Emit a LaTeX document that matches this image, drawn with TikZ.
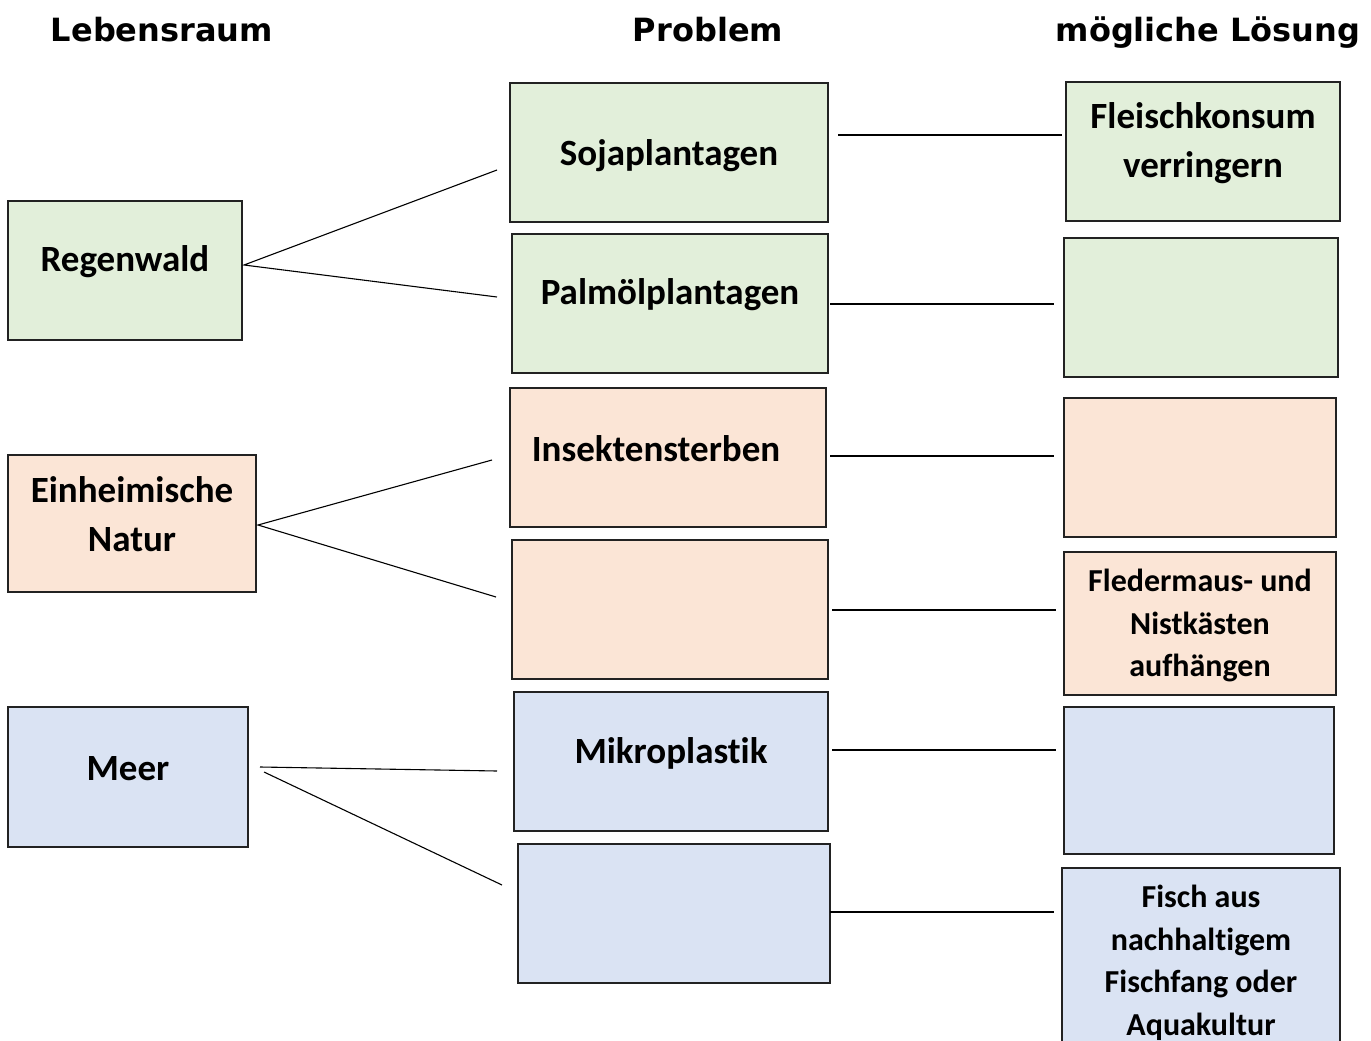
\documentclass[tikz,border=0pt]{standalone}
\usepackage{fontspec}
\setmainfont[Ligatures=NoCommon]{Carlito}
\newfontfamily\headfont{DejaVu Sans}
\definecolor{gfill}{HTML}{E2EFDA}
\definecolor{ofill}{HTML}{FBE5D6}
\definecolor{bfill}{HTML}{DAE3F3}
\definecolor{edge}{HTML}{222222}
\begin{document}
\begin{tikzpicture}[x=1pt,y=-1pt,
  box/.style={draw=edge,line width=1.2pt,inner sep=0pt},
  gbox/.style={box,fill=gfill},
  obox/.style={box,fill=ofill},
  bbox/.style={box,fill=bfill},
  txt/.style={font=\fontsize{37}{49}\selectfont\bfseries,align=center,inner sep=0pt,yshift=-3pt},
  stxt/.style={font=\fontsize{32}{42.5}\selectfont\bfseries,align=center,inner sep=0pt,yshift=-2pt},
  head/.style={font=\headfont\fontsize{32}{38}\selectfont\bfseries,inner sep=0pt,anchor=base},
  conn/.style={line width=1.1pt}]
\useasboundingbox (0,0) rectangle (1371,1041);
\clip (0,0) rectangle (1371,1041);
% headings
\node[head] (h1) at (162,42) {Lebensraum};
\node[head] (h2) at (708,42) {Problem};
\node[head] (h3) at (1208,42) {mögliche Lösung};
% left column
\draw[gbox] (8,201) rectangle (242,340);
\node[txt] (regen) at (125,259) {Regenwald};
\draw[obox] (8,455) rectangle (256,592);
\node[txt] (natur) at (132,511) {Einheimische\\Natur};
\draw[bbox] (8,707) rectangle (248,847);
\node[txt] (meer) at (128,766) {Meer};
% middle column
\draw[gbox] (510,83) rectangle (828,222);
\node[txt] (soja) at (669,153) {Sojaplantagen};
\draw[gbox] (512,234) rectangle (828,373);
\node[txt] (palm) at (670,292) {Palmölplantagen};
\draw[obox] (510,388) rectangle (826,527);
\node[txt] (insekt) at (656,446) {Insektensterben};
\draw[obox] (512,540) rectangle (828,679);
\draw[bbox] (514,692) rectangle (828,831);
\node[txt] (mikro) at (671,750) {Mikroplastik};
\draw[bbox] (518,844) rectangle (830,983);
% right column
\draw[gbox] (1066,82) rectangle (1340,221);
\node[txt] (fleisch) at (1203,140.5) {Fleischkonsum\\verringern};
\draw[gbox] (1064,238) rectangle (1338,377);
\draw[obox] (1064,398) rectangle (1336,537);
\draw[obox] (1064,552) rectangle (1336,695);
\node[stxt] (fleder) at (1200,623.5) {Fledermaus- und\\Nistkästen\\aufhängen};
\draw[bbox] (1064,707) rectangle (1334,854);
\draw[bbox] (1062,868) rectangle (1340,1060);
\node[stxt] (fisch) at (1201,961) {Fisch aus\\nachhaltigem\\Fischfang oder\\Aquakultur};
% connector end points
\coordinate (a0) at (244,265);
\coordinate (a1) at (497,170);
\coordinate (a2) at (497,297);
\coordinate (b0) at (258,525);
\coordinate (b1) at (492,460);
\coordinate (b2) at (496,597);
\coordinate (c0) at (260,767);
\coordinate (c1) at (497,771);
\coordinate (c3) at (264,772);
\coordinate (c2) at (502,885);
\coordinate (r1a) at (838,135); \coordinate (r1b) at (1062,135);
\coordinate (r2a) at (830,304); \coordinate (r2b) at (1054,304);
\coordinate (r3a) at (830,456); \coordinate (r3b) at (1054,456);
\coordinate (r4a) at (832,610); \coordinate (r4b) at (1056,610);
\coordinate (r5a) at (832,750); \coordinate (r5b) at (1056,750);
\coordinate (r6a) at (830,912); \coordinate (r6b) at (1054,912);
\draw[conn] (a1) -- (a0) -- (a2);
\draw[conn] (b1) -- (b0) -- (b2);
\draw[conn] (c0) -- (c1);
\draw[conn] (c3) -- (c2);
\draw[conn] (r1a) -- (r1b);
\draw[conn] (r2a) -- (r2b);
\draw[conn] (r3a) -- (r3b);
\draw[conn] (r4a) -- (r4b);
\draw[conn] (r5a) -- (r5b);
\draw[conn] (r6a) -- (r6b);
\end{tikzpicture}
\end{document}
